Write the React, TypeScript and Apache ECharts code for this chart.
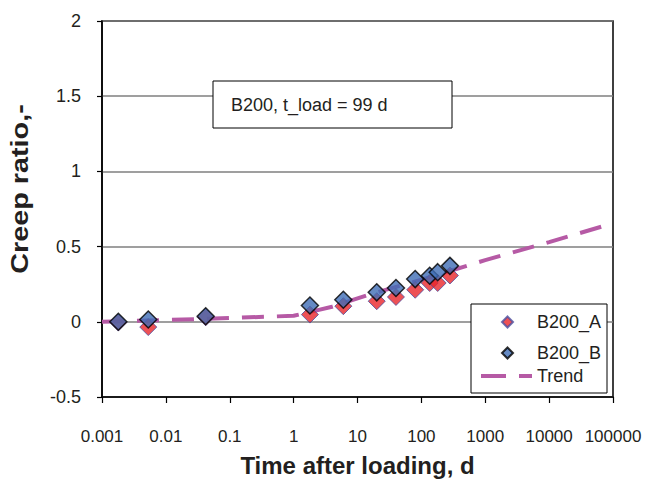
import React, { useEffect, useRef } from "react";
import * as echarts from "echarts";

const xTickLabels = ["0.001", "0.01", "0.1", "1", "10", "100", "1000", "10000", "100000"];

const timeA = [0.0018, 0.0053, 0.042, 1.8, 6, 20, 40, 80, 135, 180, 280];
const ratioA = [-0.005, -0.035, 0.03, 0.048, 0.104, 0.137, 0.165, 0.213, 0.258, 0.258, 0.308];

const timeB = [0.0018, 0.0053, 0.042, 1.8, 6, 20, 40, 80, 135, 180, 280];
const ratioB = [0, 0.015, 0.037, 0.108, 0.147, 0.196, 0.225, 0.284, 0.306, 0.33, 0.372];

const trendTime = [0.001, 0.01, 0.1, 1, 4, 15, 100, 1000, 10000, 100000];
const trendRatio = [0, 0.012, 0.025, 0.04, 0.1, 0.18, 0.28, 0.41, 0.53, 0.655];

const FONT = "'Liberation Sans', Arial, sans-serif";
const TXT = "#231F20";

export default function App() {
  const ref = useRef<HTMLDivElement>(null);
  useEffect(() => {
    if (!ref.current) return;
    const chart = echarts.init(ref.current, undefined, { renderer: "svg" });
    const zip = (xs: number[], ys: number[]) => xs.map((x, i) => [x, ys[i]]);
    const textStyle = { fontFamily: FONT, fontSize: 18, color: TXT, lineHeight: 20 };
    const legendBase = {
      orient: "vertical",
      padding: 0,
      selectedMode: false,
      z: 10,
    };
    chart.setOption({
      animation: false,
      backgroundColor: "#fff",
      grid: {
        left: 102,
        right: 51,
        top: 21,
        bottom: 84,
        show: true,
        borderColor: "#000",
        borderWidth: 1.5,
        backgroundColor: "transparent",
      },
      xAxis: {
        type: "log",
        logBase: 10,
        min: 0.001,
        max: 100000,
        splitNumber: 8,
        name: "Time after loading, d",
        nameLocation: "middle",
        nameGap: 56,
        nameTextStyle: { fontFamily: FONT, fontSize: 24, fontWeight: "bold", color: TXT },
        axisLine: { show: true, onZero: false, lineStyle: { color: "#000", width: 1.5 } },
        axisTick: { show: true, inside: false, length: 6, lineStyle: { color: "#000", width: 1.2 } },
        axisLabel: {
          margin: 31,
          fontFamily: FONT,
          fontSize: 17,
          color: TXT,
          showMinLabel: true,
          showMaxLabel: true,
          formatter: (v: number) => xTickLabels[Math.round(Math.log10(v)) + 3] ?? "",
        },
        splitLine: { show: false },
        minorTick: { show: false },
      },
      yAxis: {
        type: "value",
        min: -0.5,
        max: 2,
        interval: 0.5,
        axisLine: { show: true, onZero: false, lineStyle: { color: "#000", width: 1.5 } },
        axisTick: { show: true, inside: false, length: 5, lineStyle: { color: "#000", width: 1.2 } },
        axisLabel: { margin: 21, fontFamily: FONT, fontSize: 18, color: TXT },
        splitLine: { show: true, lineStyle: { color: "#7f7f7f", width: 1.6 } },
      },
      legend: [
        {
          ...legendBase,
          left: 501,
          top: 312,
          itemWidth: 11,
          itemHeight: 11,
          textStyle: { ...textStyle, padding: [0, 0, 0, 19] },
          data: [{ name: "B200_A", icon: "diamond" }],
        },
        {
          ...legendBase,
          left: 501,
          top: 343,
          itemWidth: 11,
          itemHeight: 11,
          textStyle: { ...textStyle, padding: [0, 0, 0, 19] },
          data: [{ name: "B200_B", icon: "diamond" }],
        },
        {
          ...legendBase,
          left: 481,
          top: 366,
          itemWidth: 51,
          itemHeight: 4,
          textStyle,
          data: [{ name: "Trend", icon: "path://M0,0H25V4H0Z M38,0H51V4H38Z" }],
        },
      ],
      graphic: [
        {
          type: "rect",
          z: 3,
          shape: { x: 213, y: 81, width: 239, height: 47 },
          style: { fill: "#fff", stroke: "#000", lineWidth: 1 },
        },
        {
          type: "text",
          z: 4,
          x: 231,
          y: 105,
          style: {
            text: "B200, t_load = 99 d",
            fontFamily: FONT,
            fontSize: 18,
            fill: TXT,
            verticalAlign: "middle",
            align: "left",
          },
        },
        {
          type: "rect",
          z: 3,
          shape: { x: 471, y: 304, width: 136, height: 89 },
          style: { fill: "#fff", stroke: "#000", lineWidth: 1 },
        },
        {
          type: "text",
          z: 4,
          x: 20,
          y: 189,
          rotation: Math.PI / 2,
          scaleX: 1.2,
          style: {
            text: "Creep ratio,-",
            fontFamily: FONT,
            fontSize: 24,
            fontWeight: "bold",
            fill: TXT,
            align: "center",
            verticalAlign: "middle",
          },
        },
      ],
      series: [
        {
          name: "Trend",
          type: "line",
          data: zip(trendTime, trendRatio),
          symbol: "none",
          showSymbol: false,
          z: 2,
          lineStyle: { color: "#B65AA5", width: 4, type: [22, 13], cap: "butt" },
          itemStyle: { color: "#B65AA5" },
        },
        {
          name: "B200_A",
          type: "scatter",
          data: zip(timeA, ratioA),
          symbol: "diamond",
          symbolSize: 17,
          z: 3,
          itemStyle: { color: "#E8262A", borderColor: "#4B4FA0", borderWidth: 1 },
        },
        {
          name: "B200_B",
          type: "scatter",
          data: zip(timeB, ratioB),
          symbol: "diamond",
          symbolSize: 17,
          z: 4,
          itemStyle: { color: "#3F6DB5", borderColor: "#000", borderWidth: 1.5 },
        },
      ],
    });
    return () => chart.dispose();
  }, []);
  return (
    <div
      ref={ref}
      style={{ position: "fixed", left: 0, top: 0, width: 664, height: 482 }}
    />
  );
}
